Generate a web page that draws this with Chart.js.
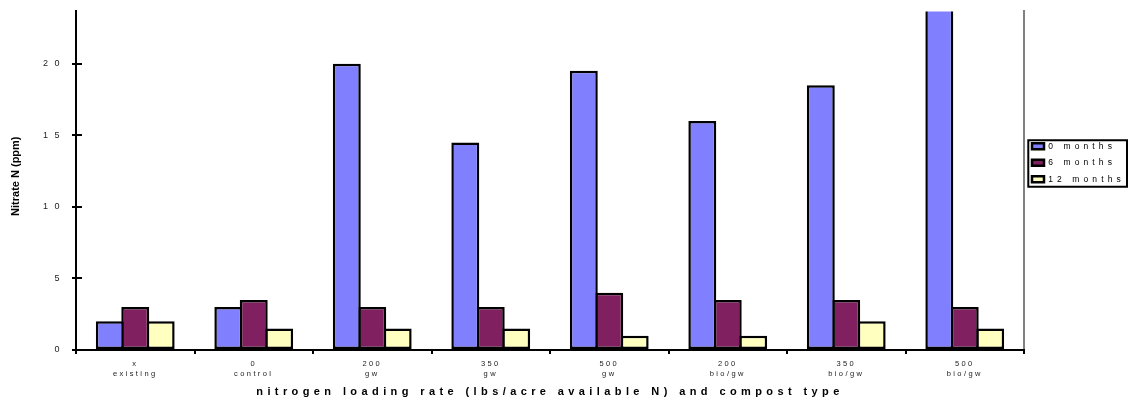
<!DOCTYPE html>
<html>
<head>
<meta charset="utf-8">
<script src="https://cdn.jsdelivr.net/npm/chart.js@4/dist/chart.umd.min.js"></script>
<style>
  html, body { margin: 0; padding: 0; background: #fff; }
  #wrap { width: 1131px; height: 404px; position: relative; }
</style>
</head>
<body>
<div id="wrap"><canvas id="chart"></canvas></div>
<script>
// Nitrate N by loading rate / compost type, sampled at 0, 6 and 12 months
const categories = [
  ['x', 'existing'],
  ['0', 'control'],
  ['200', 'gw'],
  ['350', 'gw'],
  ['500', 'gw'],
  ['200', 'bio/gw'],
  ['350', 'bio/gw'],
  ['500', 'bio/gw']
];
const seriesNames = ['0 months', '6 months', '12 months'];
const months0 = [2, 3, 20, 14.5, 19.5, 16, 18.5, 25];
const months6 = [3, 3.5, 3, 3, 4, 3.5, 3.5, 3];
const months12 = [2, 1.5, 1.5, 1.5, 1, 1, 2, 1.5];
const yTicks = [0, 5, 10, 15, 20];
const yMax = 23.65;
const xTitle = 'nitrogen loading rate (lbs/acre available N) and compost type';
const yTitle = 'Nitrate N (ppm)';

const FONT = "'Liberation Sans', Arial, sans-serif";
const seriesColors = ['#8080FF', '#802060', '#FFFFC0'];
const seriesValues = [months0, months6, months12];
const BAR_BORDER = 2.5;

// Run a draw method with a given letter spacing (and optional vertical shift)
function spaced(obj, name, spacing, dy) {
  const flag = '__spaced_' + name;
  if (obj[flag]) return;
  const orig = obj[name];
  obj[name] = function (...args) {
    const ctx = this.ctx;
    ctx.save();
    ctx.letterSpacing = spacing;
    if (dy) ctx.translate(0, dy);
    const r = orig.apply(this, args);
    ctx.restore();
    return r;
  };
  obj[flag] = true;
}

const LEGEND_WIDTH = 107;
const LEGEND_SHIFT = -18;

const textStyle = {
  id: 'textStyle',
  beforeLayout(chart) {
    const s = chart.scales;
    spaced(s.x, 'drawLabels', '2.4px');
    spaced(s.x, 'drawTitle', '4.4px');
    spaced(s.y, 'drawLabels', '6.5px');
    spaced(s.y, 'drawTitle', '0px', -4.5);

    const lg = chart.legend;
    if (lg && !lg.__styled) {
      const fit = lg.fit;
      lg.fit = function () {
        fit.call(this);
        this.width = LEGEND_WIDTH;
      };
      const draw = lg.draw;
      lg.draw = function () {
        const ctx = this.ctx;
        ctx.save();
        ctx.letterSpacing = '4.1px';
        ctx.translate(0, LEGEND_SHIFT);
        draw.call(this);
        const hb = this.legendHitBoxes;
        if (hb && hb.length) {
          const first = hb[0], last = hb[hb.length - 1];
          ctx.letterSpacing = '0px';
          ctx.lineWidth = 2;
          ctx.strokeStyle = '#000';
          ctx.strokeRect(first.left - 3.7, first.top - 1.7, 98.7,
            last.top + last.height - first.top + 5);
        }
        ctx.restore();
      };
      lg.__styled = true;
    }
  }
};

const catPct = 0.644;
const pitch = (948 / categories.length) * catPct / seriesNames.length;
const barPct = 1 + BAR_BORDER / pitch; // neighbouring bars share one outline

const datasets = seriesNames.map((name, i) => ({
  label: name,
  data: seriesValues[i],
  backgroundColor: seriesColors[i],
  borderColor: '#000',
  borderWidth: BAR_BORDER,
  borderSkipped: false,
  inflateAmount: 0,
  clip: 0,
  barPercentage: barPct,
  categoryPercentage: catPct,
  yAxisID: 'y'
}));

new Chart(document.getElementById('chart'), {
  type: 'bar',
  data: { labels: categories, datasets },
  plugins: [textStyle],
  options: {
    responsive: true,
    maintainAspectRatio: false,
    animation: false,
    devicePixelRatio: 1,
    layout: { padding: { top: 8, left: 0, right: 0, bottom: 0 } },
    plugins: {
      tooltip: { enabled: false },
      legend: {
        position: 'right',
        align: 'center',
        fullSize: false,
        labels: {
          font: { family: FONT, size: 8.5 },
          color: '#000',
          boxWidth: 12,
          boxHeight: 6,
          padding: 8
        }
      }
    },
    scales: {
      x: {
        offset: true,
        afterFit: s => { s.height = 54; },
        ticks: {
          font: { family: FONT, size: 7.5, lineHeight: 1.33 },
          color: '#222',
          padding: 5,
          maxRotation: 0,
          autoSkip: false
        },
        grid: { drawOnChartArea: false, offset: true, color: '#000', lineWidth: 2, tickLength: 4 },
        border: { color: '#000', width: 2, z: 1 },
        title: {
          display: true,
          text: xTitle,
          font: { family: FONT, size: 11, weight: 'bold' },
          color: '#000',
          padding: { top: 0, bottom: 5.2 }
        }
      },
      y: {
        position: 'left',
        min: 0,
        max: yMax,
        afterBuildTicks: s => { s.ticks = yTicks.map(v => ({ value: v })); },
        afterFit: s => { s.width = 76; },
        ticks: {
          font: { family: FONT, size: 9 },
          color: '#222',
          padding: 6,
          callback: v => String(v)
        },
        grid: { drawOnChartArea: true, color: '#000', lineWidth: 2, tickLength: 4 },
        border: { color: '#000', width: 2, dash: [5, 4000] },
        title: {
          display: true,
          text: yTitle,
          font: { family: FONT, size: 11, weight: 'bold' },
          color: '#000',
          padding: { top: 9.5, bottom: 0 }
        }
      },
      y2: {
        position: 'right',
        min: 0,
        max: 1,
        afterFit: s => { s.width = 0; },
        ticks: { display: false },
        grid: { display: false, drawTicks: false },
        border: { color: '#808080', width: 2 }
      }
    }
  }
});
</script>
</body>
</html>
